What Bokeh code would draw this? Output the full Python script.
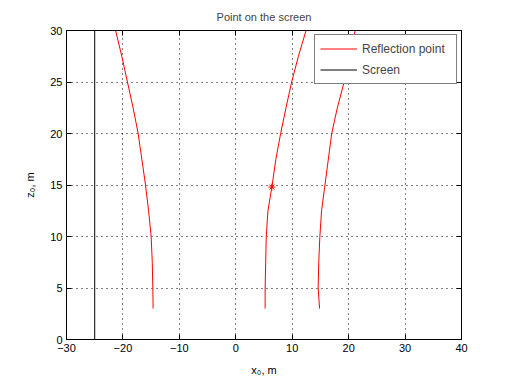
from bokeh.plotting import figure
from bokeh.models import LinearAxis, Range1d, FixedTicker, CustomJSTickFormatter, Legend, LegendItem, Title
from bokeh.embed import file_html
from bokeh.resources import INLINE

# Data
z_vals = [3, 5, 7.5, 10, 12.5, 15, 17.5, 20, 22.5, 25, 27.5, 30]
x_left = [-14.65, -14.7, -14.8, -15.0, -15.45, -16.0, -16.65, -17.3, -18.2, -19.2, -20.2, -21.3]
x_mid = [5.2, 5.2, 5.3, 5.4, 5.7, 6.45, 7.1, 7.95, 8.9, 9.9, 11.1, 12.45]
x_right = [14.85, 14.6, 14.7, 14.9, 15.2, 15.8, 16.4, 17.0, 18.0, 19.2, 20.1, 21.15]
marker_x = [6.4]
marker_z = [14.8]
screen_x = [-25, -25]
screen_z = [0, 30]
x_ticks = [-30, -20, -10, 0, 10, 20, 30, 40]
z_ticks = [0, 5, 10, 15, 20, 25, 30]

FONT = "Liberation Sans"

p = figure(width=500, height=379, output_backend="svg", toolbar_location=None,
           x_range=Range1d(-30, 40), y_range=Range1d(0, 30),
           min_border_left=66, min_border_right=39, min_border_top=30, min_border_bottom=40)

p.title = Title(text="Point on the screen", align="center", text_font=FONT,
                text_font_size="11px", text_font_style="normal", offset=0, standoff=16)

r1 = p.line(x_left, z_vals, line_color="red", line_width=1)
p.line(x_mid, z_vals, line_color="red", line_width=1)
p.line(x_right, z_vals, line_color="red", line_width=1)
p.scatter(marker_x, marker_z, marker="asterisk", size=7, line_color="red", line_width=1)
r2 = p.line(screen_x, screen_z, line_color="black", line_width=1)

for ax in (p.xaxis[0], p.yaxis[0]):
    ax.major_tick_in = 5
    ax.major_tick_out = 0
    ax.minor_tick_line_color = None
    ax.major_label_text_font = FONT
    ax.major_label_text_font_size = "11px"
    ax.axis_label_text_font = FONT
    ax.axis_label_text_font_size = "11px"
    ax.axis_label_text_font_style = "normal"
    ax.axis_line_color = "black"
    ax.major_tick_line_color = "black"
    ax.major_label_text_color = "black"
    ax.axis_label_text_color = "black"

p.xaxis[0].ticker = FixedTicker(ticks=x_ticks)
p.yaxis[0].ticker = FixedTicker(ticks=z_ticks)
p.xaxis[0].axis_label = "x₀, m"
p.yaxis[0].axis_label = "z₀, m"
p.xaxis[0].major_label_standoff = 4
p.yaxis[0].major_label_standoff = 4
p.xaxis[0].axis_label_standoff = 9
p.yaxis[0].axis_label_standoff = 11

empty = CustomJSTickFormatter(code="return ''")
top = LinearAxis(ticker=FixedTicker(ticks=x_ticks), formatter=empty, major_tick_in=5, major_tick_out=0,
                 minor_tick_line_color=None, major_label_text_font_size="1px", major_label_standoff=0)
right = LinearAxis(ticker=FixedTicker(ticks=z_ticks), formatter=empty, major_tick_in=5, major_tick_out=0,
                   minor_tick_line_color=None, major_label_text_font_size="1px", major_label_standoff=0)
p.add_layout(top, "above")
p.add_layout(right, "right")

p.xgrid.ticker = FixedTicker(ticks=x_ticks)
p.ygrid.ticker = FixedTicker(ticks=z_ticks)
for g in (p.xgrid[0], p.ygrid[0]):
    g.grid_line_color = "black"
    g.grid_line_dash = "1 4"
    g.grid_line_alpha = 1.0

p.outline_line_color = "black"

legend = Legend(items=[LegendItem(label="Reflection point", renderers=[r1]),
                       LegendItem(label="Screen", renderers=[r2])],
                location="top_right", label_text_font=FONT, label_text_font_size="12px",
                border_line_color="black", border_line_width=1, background_fill_alpha=1.0,
                glyph_width=37, label_standoff=5, padding=5, spacing=4, label_height=17, glyph_height=17,
                label_width=89, margin=4)
p.add_layout(legend)

open("out.html", "w").write(file_html(p, INLINE))
